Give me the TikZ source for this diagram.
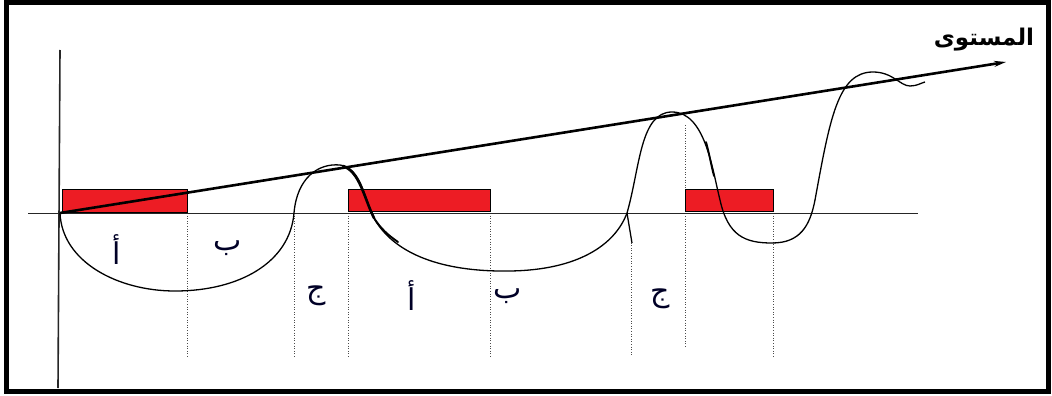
\documentclass[tikz,border=0pt]{standalone}
\usepackage{fontspec}
\usetikzlibrary{arrows.meta}
\TeXXeTstate=1
\newfontfamily\arabicfont[Script=Arabic]{DejaVu Sans}
\definecolor{barred}{RGB}{237,28,36}
\tikzset{
  bar/.style={fill=barred,draw=black,line width=0.5pt},
  guide/.style={dotted,line width=0.6pt,black!70},
  axisline/.style={line width=1pt,black!85},
  curve/.style={line width=1.3pt,black},
  lbl/.style={font=\arabicfont\fontsize{30}{32}\selectfont,text=black!85!blue,inner sep=0pt}
}
\begin{document}
\begin{tikzpicture}[x=1pt,y=-1pt]
\useasboundingbox (0,0) rectangle (1052,396);
% frame
\draw[line width=5pt] (6,3) rectangle (1048,391);
% dotted guides
\draw[guide] (187,213) -- (187,358);
\draw[guide] (294,213) -- (294,358);
\draw[guide] (348,213) -- (348,358);
\draw[guide] (490,213) -- (490,358);
\draw[guide] (631,240) -- (631,355);
\draw[guide] (685,125) -- (685,348);
\draw[guide] (773,213) -- (773,358);
% bars
\draw[bar] (62,189) rectangle (187,212);
\draw[bar] (348,189) rectangle (490,211);
\draw[bar] (685,189) rectangle (773,211);
% axes
\draw[axisline,line width=1.6pt] (60,50) -- (58,388);
\draw[axisline] (28,213) -- (918,213);
% level arrow
\coordinate (o) at (60,213);
\coordinate (tip) at (1006,62);
\draw[line width=2.6pt,-{Stealth[length=12pt,width=6pt]}] (o) -- (tip);
% curve
\draw[curve] (60,213) .. controls (62,262) and (118,291) .. (175,291)
  .. controls (240,291) and (290,262) .. (294,213)
  .. controls (297,178) and (318,163) .. (340,165)
  .. controls (362,168) and (364,200) .. (375,220)
  .. controls (398,258) and (450,272) .. (510,271)
  .. controls (578,270) and (615,245) .. (627,213)
  .. controls (640,168) and (640,112) .. (672,112)
  .. controls (705,112) and (712,168) .. (720,200)
  .. controls (728,236) and (745,243) .. (772,243)
  .. controls (800,243) and (810,226) .. (815,200)
  .. controls (830,118) and (838,72) .. (873,72)
  .. controls (893,72) and (900,86) .. (910,86)
  .. controls (917,86) and (921,83) .. (925,82);
\draw[line width=2.6pt,line cap=round] (343,166) .. controls (360,172) and (364,198) .. (374,218);
\draw[line width=1.9pt,line cap=round] (374,218) .. controls (381,229) and (388,235) .. (398,242);
\draw[line width=1.3pt] (627,213) -- (632,243);
\draw[line width=1.8pt,line cap=round] (706,142) .. controls (709,152) and (711,165) .. (714,176);
% labels
\node[lbl] (a1) at (117,250) {\beginR أ\endR};
\node[lbl] (b1) at (228,248) {\beginR ب\endR};
\node[lbl] (c1) at (316,296) {\beginR ج\endR};
\node[lbl] (a2) at (412,296) {\beginR أ\endR};
\node[lbl] (b2) at (508,296) {\beginR ب\endR};
\node[lbl] (c2) at (660,299) {\beginR ج\endR};
\node[font=\arabicfont\bfseries\fontsize{23}{25}\selectfont,inner sep=0pt] (lev) at (984,40) {\beginR المستوى\endR};
\end{tikzpicture}
\end{document}
